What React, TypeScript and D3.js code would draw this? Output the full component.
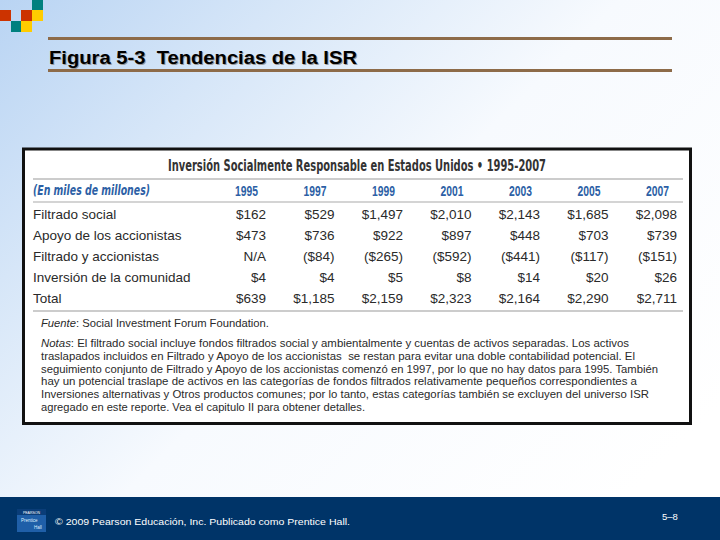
import React from "react";
import * as d3 from "d3";

const slideTitle = "Figura 5-3\u00a0\u00a0Tendencias de la ISR";
const tableTitle = "Inversión Socialmente Responsable en Estados Unidos • 1995-2007";
const unitLabel = "(En miles de millones)";
const years = ["1995", "1997", "1999", "2001", "2003", "2005", "2007"];
const rowLabels = [
  "Filtrado social",
  "Apoyo de los accionistas",
  "Filtrado y accionistas",
  "Inversión de la comunidad",
  "Total",
];
const filtradoSocial = [162, 529, 1497, 2010, 2143, 1685, 2098];
const apoyoAccionistas = [473, 736, 922, 897, 448, 703, 739];
const filtradoYAccionistas = [null, -84, -265, -592, -441, -117, -151];
const inversionComunidad = [4, 4, 5, 8, 14, 20, 26];
const total = [639, 1185, 2159, 2323, 2164, 2290, 2711];
const seriesRows = [filtradoSocial, apoyoAccionistas, filtradoYAccionistas, inversionComunidad, total];

const sourceLabel = "Fuente";
const sourceText = ": Social Investment Forum Foundation.";
const notesLabel = "Notas";
const notesLines = [
  ": El filtrado social incluye fondos filtrados social y ambientalmente y cuentas de activos separadas. Los activos",
  "traslapados incluidos en Filtrado y Apoyo de los accionistas\u00a0 se restan para evitar una doble contabilidad potencial. El",
  "seguimiento conjunto de Filtrado y Apoyo de los accionistas comenzó en 1997, por lo que no hay datos para 1995. También",
  "hay un potencial traslape de activos en las categorías de fondos filtrados relativamente pequeños correspondientes a",
  "Inversiones alternativas y Otros productos comunes; por lo tanto, estas categorías también se excluyen del universo ISR",
  "agregado en este reporte. Vea el capitulo II para obtener detalles.",
];
const notesEnds = [629, 635, 658, 637, 649, 365];
const footerText = "© 2009 Pearson Educación, Inc. Publicado como Prentice Hall.";
const pageLabel = "5–8";

const fmt = d3.format(",");
function formatValue(v: number | null): string {
  if (v === null) return "N/A";
  if (v < 0) return "($" + fmt(-v) + ")";
  return "$" + fmt(v);
}

const W = 720;
const H = 540;
const SANS = "'Liberation Sans', Arial, Helvetica, sans-serif";
const NARROW = "'Liberation Sans Narrow', 'DejaVu Sans Condensed', 'Liberation Sans', sans-serif";
const BLUE = "#2c5fa5";
const TEXT = "#2a2a2a";

export default function App() {
  const xCol = d3.scalePoint<string>().domain(years).range([266, 677]);
  const yRow = d3.scalePoint<string>().domain(rowLabels).range([219, 303]);
  const yNote = d3.scalePoint<number>().domain(d3.range(notesLines.length)).range([347, 411]);

  const squares = [
    { x: 32, y: 0, c: "#00807e" },
    { x: 0, y: 10, c: "#cc3300" },
    { x: 21, y: 10, c: "#cc3300" },
    { x: 32, y: 10, c: "#ffcc00" },
    { x: 11, y: 21, c: "#00807e" },
    { x: 21, y: 21, c: "#ffcc00" },
  ];

  return (
    <div style={{ position: "fixed", left: 0, top: 0, width: W, height: H }}>
      <svg width={W} height={H} style={{ display: "block" }}>
        <defs>
          <linearGradient id="bg" x1="0" y1="0" x2="1" y2="0.75">
            <stop offset="0" stopColor="#b9d4f3" />
            <stop offset="0.25" stopColor="#d6e6f8" />
            <stop offset="0.55" stopColor="#f7fafe" />
            <stop offset="1" stopColor="#ffffff" />
          </linearGradient>
        </defs>
        <rect x={0} y={0} width={W} height={H} fill="url(#bg)" />

        {squares.map((s, i) => (
          <rect key={i} x={s.x} y={s.y} width={11} height={11} fill={s.c} />
        ))}

        {/* Slide title */}
        <rect x={48} y={37} width={624} height={3} fill="#8d6b49" />
        <rect x={48} y={69} width={624} height={3} fill="#8d6b49" />
        <text x={50} y={64.5} fontFamily={SANS} fontWeight="bold" fontSize={18} fill="#9a9a9a"
          textLength={308} lengthAdjust="spacingAndGlyphs">{slideTitle}</text>
        <text x={49} y={63.5} fontFamily={SANS} fontWeight="bold" fontSize={18} fill="#000"
          textLength={308} lengthAdjust="spacingAndGlyphs">{slideTitle}</text>

        {/* Table box */}
        <rect x={23.5} y={149} width={667} height={274.5} fill="#fff" stroke="#111" strokeWidth={3} />
        <text x={168} y={171} fontFamily={NARROW} fontWeight="bold" fontSize={15} fill="#333"
          textLength={378} lengthAdjust="spacingAndGlyphs">{tableTitle}</text>
        <line x1={33} x2={683} y1={179} y2={179} stroke="#999" strokeWidth={1.2} />

        <text x={33} y={195} fontFamily={NARROW} fontWeight="bold" fontStyle="italic" fontSize={13.5} fill={BLUE}
          textLength={117} lengthAdjust="spacingAndGlyphs">{unitLabel}</text>
        {years.map((yr) => (
          <text key={yr} x={(xCol(yr) as number) - 31} y={195.5} fontFamily={SANS}
            fontWeight="bold" fontSize={14} fill={BLUE} textLength={23}
            lengthAdjust="spacingAndGlyphs">{yr}</text>
        ))}
        <line x1={33} x2={683} y1={202} y2={202} stroke="#aaa" strokeWidth={1.2} />

        {rowLabels.map((lab, ri) => (
          <g key={lab}>
            <text x={33} y={yRow(lab)} fontFamily={SANS} fontSize={13.5} fill={TEXT}>{lab}</text>
            {seriesRows[ri].map((v, ci) => (
              <text key={ci} x={xCol(years[ci])} y={yRow(lab)} textAnchor="end" fontFamily={SANS}
                fontSize={13.5} fill={TEXT}>{formatValue(v)}</text>
            ))}
          </g>
        ))}
        <line x1={33} x2={683} y1={311} y2={311} stroke="#999" strokeWidth={1.2} />

        <text x={41} y={327} fontFamily={SANS} fontSize={11.2} fill={TEXT} textLength={228} lengthAdjust="spacingAndGlyphs">
          <tspan fontStyle="italic">{sourceLabel}</tspan>
          <tspan>{sourceText}</tspan>
        </text>

        {notesLines.map((ln, i) => (
          <text key={i} x={41} y={yNote(i)} fontFamily={SANS} fontSize={11.2} fill={TEXT}
            textLength={notesEnds[i] - 41} lengthAdjust="spacingAndGlyphs">
            {i === 0 ? <tspan fontStyle="italic">{notesLabel}</tspan> : null}
            <tspan>{ln}</tspan>
          </text>
        ))}

        {/* Footer */}
        <rect x={0} y={497} width={W} height={H - 497} fill="#003468" />
        <rect x={17} y={509} width={29} height={23} fill="#1f5fa8" />
        <rect x={17} y={509} width={29} height={6} fill="#0a3d78" />
        <text x={31.5} y={514} textAnchor="middle" fontFamily={SANS} fontSize={3.5} fill="#fff">PEARSON</text>
        <text x={21} y={522} fontFamily={SANS} fontSize={4.5} fill="#dfefff">Prentice</text>
        <text x={34} y={529} fontFamily={SANS} fontSize={4.5} fill="#dfefff">Hall</text>
        <text x={55} y={525} fontFamily={SANS} fontSize={9.5} fill="#fff" textLength={295}
          lengthAdjust="spacingAndGlyphs">{footerText}</text>
        <text x={662} y={520} fontFamily={SANS} fontSize={9.5} fill="#fff">{pageLabel}</text>
      </svg>
    </div>
  );
}
